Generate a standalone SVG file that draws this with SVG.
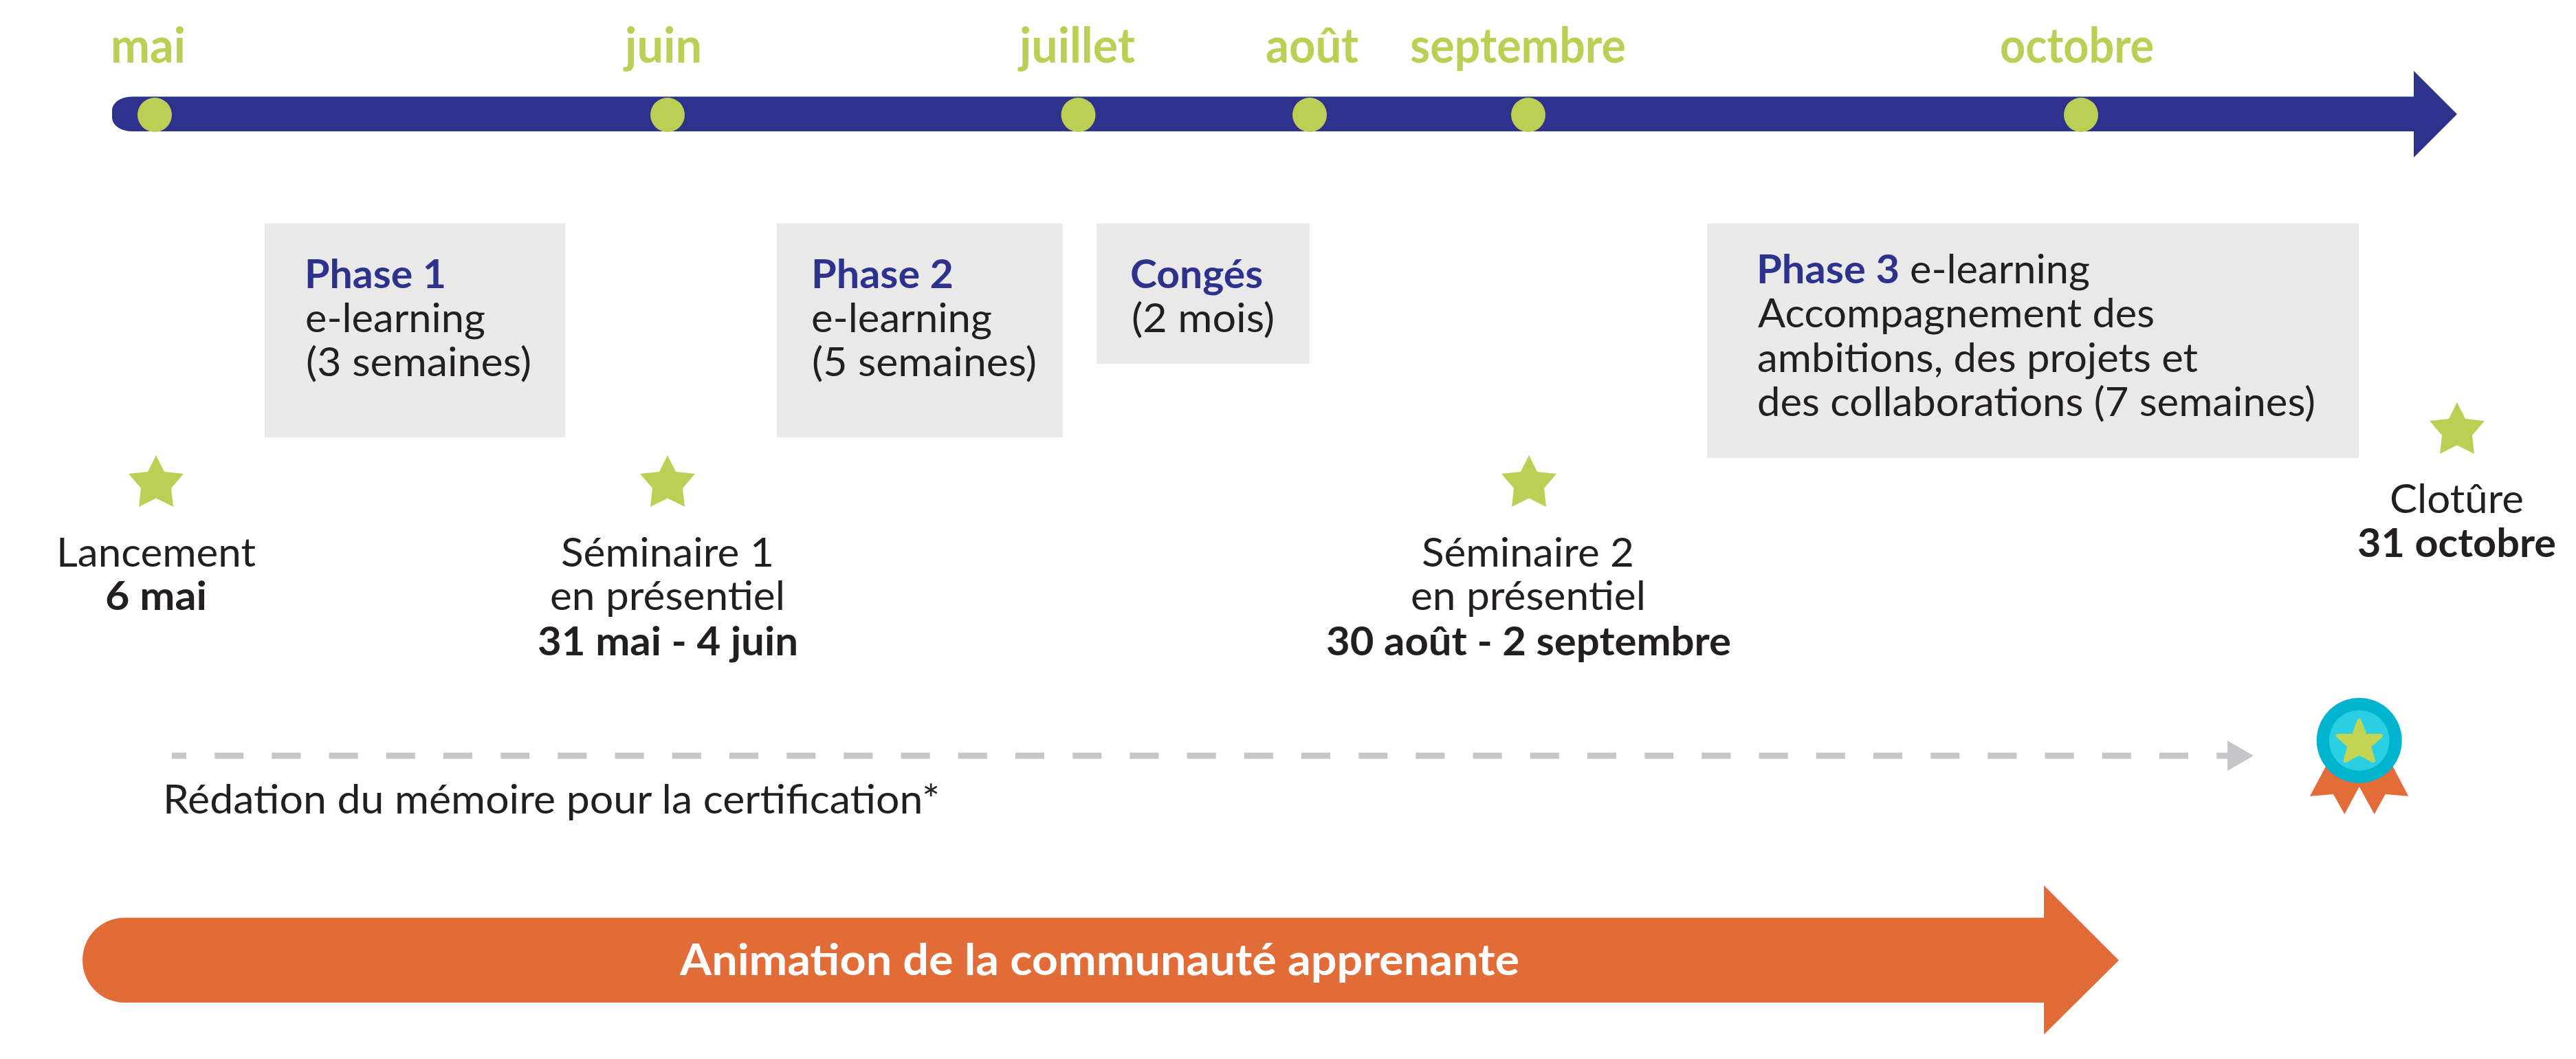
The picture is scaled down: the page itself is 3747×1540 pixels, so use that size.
<svg xmlns="http://www.w3.org/2000/svg" width="3747" height="1540" viewBox="0 0 3747 1540">
<style>
text{font-family:"Lato","Liberation Sans",sans-serif;font-size:58px;fill:#231f20}
.b{font-weight:700}
.m{font-weight:700;font-size:70px;fill:#bccf55}
.h{font-weight:700;fill:#2d338c}
.w{font-weight:700;font-size:63px;fill:#fff}
.box{fill:#e9e9e9}
.dot{fill:#bccf55}
.star{fill:#bccf55}
</style>
<defs>
<polygon id="star" points="0,0 12,24 40,27 22,48 25,75 0,62.500 -25,75 -22,48 -40,27 -12,24"/>
</defs>
<rect width="3747" height="1540" fill="#fff"/>
<g id="connectors">
<path id="timeline" d="M192,140.500H3511V103L3574,166L3511,229V191H192A29,20 0 0 1 163,171V160.500A29,20 0 0 1 192,140.500Z" fill="#2d338c"/>
<line id="memoire-line" x1="250" y1="1099" x2="3241" y2="1099" stroke="#c6c5ca" stroke-width="9" stroke-dasharray="42 41.200" stroke-dashoffset="21"/>
<polygon id="memoire-head" points="3240,1077 3278,1099 3240,1121" fill="#c6c5ca"/>
</g>
<g id="animation">
<path d="M181,1334.500H2973V1287.500L3082,1396.500L2973,1504.500V1458H181A61,61.700 0 0 1 120,1396.300A61,61.700 0 0 1 181,1334.500Z" fill="#e26c37"/>
<text class="w" x="989" y="1418" textLength="1221" lengthAdjust="spacingAndGlyphs">Animation de la communauté apprenante</text>
</g>
<g id="month-mai"><circle class="dot" cx="225" cy="167" r="25"/><text class="m" x="161" y="91" textLength="109" lengthAdjust="spacingAndGlyphs">mai</text></g>
<g id="month-juin"><circle class="dot" cx="971" cy="167" r="25"/><text class="m" x="909" y="91" textLength="112" lengthAdjust="spacingAndGlyphs">juin</text></g>
<g id="month-juillet"><circle class="dot" cx="1568.500" cy="167" r="25"/><text class="m" x="1483" y="91" textLength="168" lengthAdjust="spacingAndGlyphs">juillet</text></g>
<g id="month-aout"><circle class="dot" cx="1905" cy="167" r="25"/><text class="m" x="1841" y="91" textLength="135" lengthAdjust="spacingAndGlyphs">août</text></g>
<g id="month-septembre"><circle class="dot" cx="2223" cy="167" r="25"/><text class="m" x="2051" y="91" textLength="314" lengthAdjust="spacingAndGlyphs">septembre</text></g>
<g id="month-octobre"><circle class="dot" cx="3027" cy="167" r="25"/><text class="m" x="2909" y="91" textLength="224" lengthAdjust="spacingAndGlyphs">octobre</text></g>
<g id="phase-1"><rect class="box" x="385" y="325" width="437" height="311"/>
<text class="h" x="443" y="419" textLength="206" lengthAdjust="spacingAndGlyphs">Phase 1</text>
<text x="444" y="483" textLength="262" lengthAdjust="spacingAndGlyphs">e-learning</text>
<text x="445" y="547" textLength="328" lengthAdjust="spacingAndGlyphs">(3 semaines)</text></g>
<g id="phase-2"><rect class="box" x="1130" y="325" width="416" height="311"/>
<text class="h" x="1180" y="419" textLength="207" lengthAdjust="spacingAndGlyphs">Phase 2</text>
<text x="1180" y="483" textLength="263" lengthAdjust="spacingAndGlyphs">e-learning</text>
<text x="1181" y="547" textLength="327" lengthAdjust="spacingAndGlyphs">(5 semaines)</text></g>
<g id="conges"><rect class="box" x="1595" y="325" width="310" height="204"/>
<text class="h" x="1644" y="419" textLength="193" lengthAdjust="spacingAndGlyphs">Congés</text>
<text x="1646" y="483" textLength="208" lengthAdjust="spacingAndGlyphs">(2 mois)</text></g>
<g id="phase-3"><rect class="box" x="2483" y="325" width="948" height="341"/>
<text class="h" x="2555" y="412" textLength="208" lengthAdjust="spacingAndGlyphs">Phase 3</text>
<text x="2778" y="412" textLength="262" lengthAdjust="spacingAndGlyphs">e-learning</text>
<text x="2557" y="476" textLength="577" lengthAdjust="spacingAndGlyphs">Accompagnement des</text>
<text x="2556" y="541" textLength="641" lengthAdjust="spacingAndGlyphs">ambitions, des projets et</text>
<text x="2556" y="605" textLength="812" lengthAdjust="spacingAndGlyphs">des collaborations (7 semaines)</text></g>
<g id="lancement"><use href="#star" class="star" x="227" y="662"/>
<text x="82" y="824" textLength="290" lengthAdjust="spacingAndGlyphs">Lancement</text>
<text class="b" x="153" y="887" textLength="148" lengthAdjust="spacingAndGlyphs">6 mai</text></g>
<g id="seminaire-1"><use href="#star" class="star" x="971" y="662"/>
<text x="816" y="824" textLength="310" lengthAdjust="spacingAndGlyphs">Séminaire 1</text>
<text x="800" y="887" textLength="342" lengthAdjust="spacingAndGlyphs">en présentiel</text>
<text class="b" x="782" y="953" textLength="379" lengthAdjust="spacingAndGlyphs">31 mai - 4 juin</text></g>
<g id="seminaire-2"><use href="#star" class="star" x="2224" y="662"/>
<text x="2068" y="824" textLength="309" lengthAdjust="spacingAndGlyphs">Séminaire 2</text>
<text x="2052" y="887" textLength="342" lengthAdjust="spacingAndGlyphs">en présentiel</text>
<text class="b" x="1929" y="953" textLength="589" lengthAdjust="spacingAndGlyphs">30 août - 2 septembre</text></g>
<g id="cloture"><use href="#star" class="star" x="3574" y="585"/>
<text x="3476" y="746" textLength="195" lengthAdjust="spacingAndGlyphs">Clotûre</text>
<text class="b" x="3429" y="810" textLength="289" lengthAdjust="spacingAndGlyphs">31 octobre</text></g>
<g id="memoire"><text x="237" y="1183" textLength="1130" lengthAdjust="spacingAndGlyphs">Rédation du mémoire pour la certification*</text></g>
<g id="medal">
<polygon points="3382.700,1115 3360,1157.700 3394,1155 3410.300,1184 3431.700,1144 3453.700,1184 3469.700,1155 3503.300,1157.700 3480.700,1115" fill="#e36c38"/>
<circle cx="3431.700" cy="1076.800" r="62" fill="#00b3cf"/>
<circle cx="3431.700" cy="1076.800" r="44" fill="#2bcfe3"/>
<polygon points="3431.700,1048 3440,1070 3463,1070 3446,1085 3452,1106 3431.700,1095 3411.500,1106 3417.500,1085 3401,1070 3423.500,1070" fill="#c2d452" stroke="#c2d452" stroke-width="6" stroke-linejoin="round"/>
</g>
</svg>
